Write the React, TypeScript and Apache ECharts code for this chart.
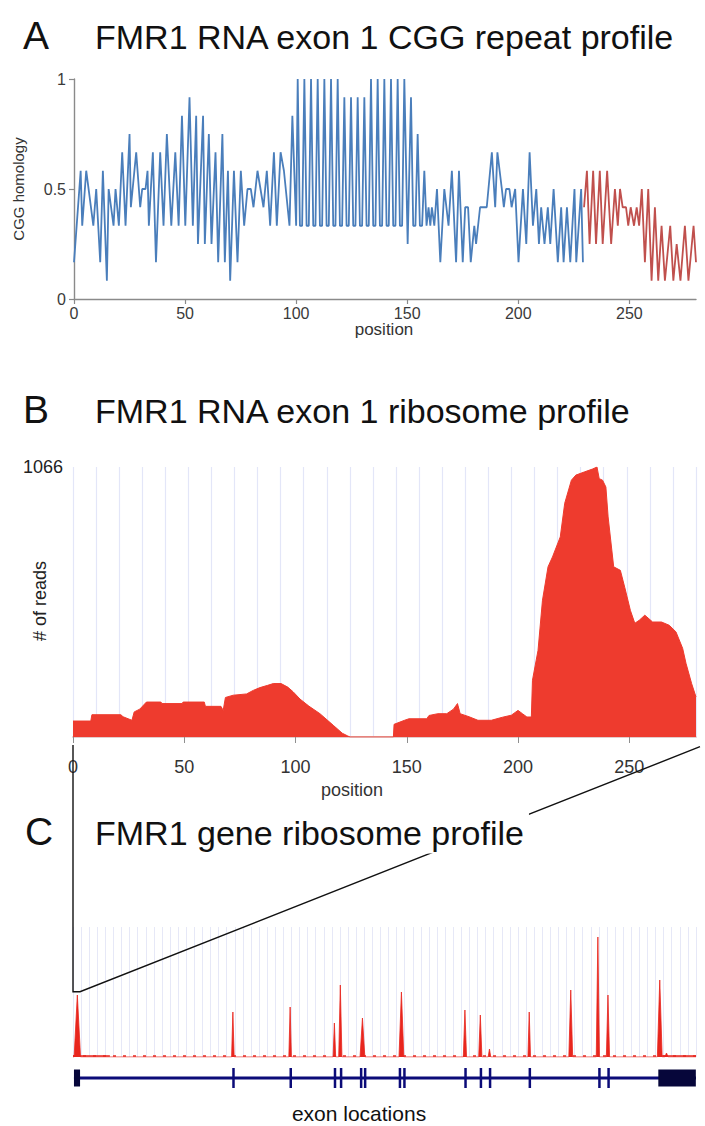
import { useEffect, useRef } from 'react';
import * as echarts from 'echarts';

const FONT = '"Liberation Sans", Arial, Helvetica, sans-serif';

// ---------- Panel A: CGG homology along exon 1 (position, homology) ----------
const cggBlue: number[][] = [
  [0, 0.167], [3, 0.583], [3.7, 0.333], [5.5, 0.583], [8.7, 0.333], [10, 0.5], [11.8, 0.167], [13, 0.583], [14.8, 0.083], [15.6, 0.5],
  [17.8, 0.333], [18.7, 0.5], [20.2, 0.333], [21.7, 0.667], [23.2, 0.333], [25, 0.75], [25.6, 0.417], [28, 0.667], [29.8, 0.417], [30.7, 0.5],
  [32.2, 0.5], [33.1, 0.583], [33.7, 0.333], [35.5, 0.667], [36.9, 0.167], [38.8, 0.667], [40.3, 0.333], [41.8, 0.75], [43.8, 0.333], [45.6, 0.667],
  [47.1, 0.333], [48.6, 0.833], [50.1, 0.333], [52, 0.917], [53.5, 0.333], [55, 0.833], [55.8, 0.25], [58.1, 0.833], [58.9, 0.25], [60.7, 0.75],
  [61.9, 0.25], [63.7, 0.667], [64.9, 0.167], [66.8, 0.75], [67.9, 0.167], [69.3, 0.583], [70.3, 0.083], [72, 0.583], [73.6, 0.167], [75.1, 0.583],
  [76.6, 0.333], [78.1, 0.5], [79.6, 0.5], [80.8, 0.417], [82.6, 0.583], [85.3, 0.417], [86.8, 0.583], [88.3, 0.333], [90, 0.667], [91.3, 0.333],
  [93, 0.667], [94.5, 0.583], [97, 0.333], [98.3, 0.833], [100, 0.333], [100.7, 1],
  [101.7, 0.333], [102.7, 0.333], [103.7, 1], [104.7, 0.333], [105.7, 0.333], [106.7, 1], [107.7, 0.333], [108.7, 0.333], [109.7, 1],
  [110.7, 0.333], [111.7, 0.333], [112.7, 1], [113.7, 0.333], [114.7, 0.333], [115.7, 1], [116.7, 0.333], [117.7, 0.333], [118.7, 1],
  [119.7, 0.333], [120.7, 0.333], [121.7, 0.917], [122.7, 0.333], [123.7, 0.333], [124.7, 0.917], [125.7, 0.333], [126.7, 0.333], [127.7, 0.917],
  [128.7, 0.333], [129.7, 0.333], [130.7, 0.917], [131.7, 0.333], [132.7, 0.333], [133.7, 1], [134.7, 0.333], [135.7, 0.333], [136.7, 1],
  [137.7, 0.333], [138.7, 0.333], [139.7, 1], [140.7, 0.333], [141.7, 0.333], [142.7, 1], [143.7, 0.333], [144.7, 0.333], [145.7, 1],
  [146.7, 0.333], [147.7, 0.333], [148.7, 1], [150.2, 0.25], [151.7, 0.917], [152.7, 0.333], [153.7, 0.333], [154.7, 0.75],
  [155.7, 0.333], [156.7, 0.333], [157.7, 0.583], [158.7, 0.333],
  [159.6, 0.417], [160.4, 0.333], [161.1, 0.417], [162.2, 0.333], [163.4, 0.5], [164.9, 0.167], [166.7, 0.5], [168.6, 0.333], [170.1, 0.583], [172, 0.167],
  [173.3, 0.583], [175, 0.167], [176.1, 0.417], [177.4, 0.417], [178.6, 0.167], [180.2, 0.333], [181, 0.25], [182.8, 0.417], [185.8, 0.417], [188.1, 0.667],
  [189.6, 0.417], [190.6, 0.667], [192.6, 0.5], [193.5, 0.417], [194.5, 0.5], [196, 0.5], [197, 0.417], [198.6, 0.5], [200.1, 0.167], [202.1, 0.5],
  [203.6, 0.25], [205.1, 0.667], [206.6, 0.333], [208.1, 0.5], [209.3, 0.25], [210.3, 0.417], [211.8, 0.25], [213.3, 0.417], [214.4, 0.25], [215.9, 0.5],
  [217.8, 0.167], [219.3, 0.417], [220.4, 0.167], [221.9, 0.417], [223.4, 0.167], [225.3, 0.5], [226.1, 0.167], [228.3, 0.5], [229.1, 0.167],
];

const cggRed: number[][] = [
  [229.6, 0.417], [230.9, 0.583], [232.1, 0.25], [233.7, 0.583], [235, 0.25], [236.7, 0.583], [238, 0.25], [240, 0.583], [241.8, 0.25],
  [243.5, 0.5], [244.8, 0.333], [245.8, 0.5], [247, 0.417], [248.5, 0.417], [249.5, 0.333], [250.6, 0.417], [252.1, 0.333], [253.3, 0.417],
  [254.4, 0.333], [255.6, 0.5], [257, 0.167], [258.5, 0.5], [260, 0.083], [261.5, 0.417], [263, 0.083], [264.5, 0.333], [266, 0.083],
  [268.4, 0.333], [269.8, 0.083], [271.3, 0.25], [273, 0.083], [275, 0.333], [276.6, 0.083], [278.9, 0.333], [280, 0.167],
];

const exonTicks = [0, 50, 100, 150, 200, 250];

// ---------- Panel B: ribosome reads along exon 1 (position, # of reads) ----------
const riboReads: number[][] = [
  [0, 63], [8, 63], [8.5, 88], [21.5, 88], [22.5, 80], [26.5, 66], [27.5, 99], [30, 110], [33, 138], [39.5, 138],
  [40, 132], [49, 132], [49.5, 138], [59, 138], [59.5, 121], [66.5, 121], [67.5, 105], [68.5, 156], [72, 165], [78, 170],
  [81, 184], [84, 195], [87.5, 204], [90, 211], [93.5, 211], [96.5, 197], [99, 178], [102, 150], [106, 122], [111, 92],
  [117, 46], [121, 15], [123.5, 4], [124.5, 0], [144, 0], [144.3, 50], [149, 66], [151, 72], [159, 72], [160, 85],
  [164, 92], [168, 92], [171, 110], [172.8, 132], [174, 92], [178, 80], [182, 66], [188, 66], [193, 78], [197, 86],
  [200, 105], [202, 92], [204, 79], [206, 79], [206.5, 224], [209, 342], [211, 540], [213.5, 672], [215.5, 711], [219, 790],
  [221, 923], [224, 1014], [226, 1034], [230, 1047], [233.5, 1058], [235.5, 1066], [236.5, 1020], [238, 1014], [239.5, 987], [240.5, 869],
  [243, 672], [246, 658], [248, 590], [250.5, 500], [252.5, 449], [254.5, 461], [257, 481], [260.5, 454], [264.5, 454], [268, 441],
  [271, 415], [274, 350], [275.5, 291], [278, 212], [280, 158],
];
const riboMax = 1066;

// ---------- Panel C: whole FMR1 gene (kb) ----------
const spikeKb = [0.27, 9.97, 13.54, 16.3, 16.67, 18.05, 20.48, 24.44, 25.4, 25.97, 28.45, 31.04, 32.73, 33.36, 36.59, 37.01];
const spikeReads = [62, 45, 50, 34, 72, 39, 65, 47, 42, 8, 45, 67, 120, 62, 77, 4];
const spikeHalfWidth = [0.2, 0.08, 0.08, 0.08, 0.1, 0.15, 0.15, 0.1, 0.1, 0.08, 0.08, 0.12, 0.1, 0.1, 0.15, 0.1];
const geneLengthKb = 38.85;

const exonStartKb = [0.06, 9.93, 13.5, 16.26, 16.64, 17.89, 18.14, 20.31, 20.59, 24.4, 25.36, 25.93, 28.41, 32.75, 33.32, 36.5];
const exonEndKb = [0.44, 10.03, 13.6, 16.36, 16.74, 17.99, 18.24, 20.41, 20.69, 24.5, 25.46, 26.03, 28.51, 32.85, 33.42, 38.84];
const exonBlock = [1, 0, 0, 0, 0, 0, 0, 0, 0, 0, 0, 0, 0, 0, 0, 1];

function buildSpikes(): number[][] {
  const out: number[][] = [[0, 0]];
  spikeKb.forEach((k, i) => {
    out.push([k - spikeHalfWidth[i], 0], [k, spikeReads[i]], [k + spikeHalfWidth[i], 0]);
  });
  out.push([geneLengthKb, 0]);
  return out;
}

const BLUE = '#4a7ebb';
const DARKRED = '#c0504d';
const RED = '#ee3b2e';
const NAVY = '#0b0b78';

export default function App() {
  const ref = useRef<HTMLDivElement>(null);

  useEffect(() => {
    document.body.style.margin = '0';
    const chart = echarts.init(ref.current as HTMLDivElement, undefined, { renderer: 'svg' });

    const hidden = {
      axisLine: { show: false },
      axisTick: { show: false },
      axisLabel: { show: false },
      splitLine: { show: false },
    };

    const txt = (text: string, x: number, y: number, size: number, extra: any = {}, styleExtra: any = {}) => ({
      type: 'text',
      x,
      y,
      z: 100,
      ...extra,
      style: {
        text,
        fontSize: size,
        fontFamily: FONT,
        fill: '#111',
        align: 'left',
        verticalAlign: 'middle',
        ...styleExtra,
      },
    });

    const option: any = {
      animation: false,
      backgroundColor: '#ffffff',
      textStyle: { fontFamily: FONT },
      grid: [
        { left: 74, top: 79, width: 622, height: 220 },
        { left: 73, top: 467, width: 623, height: 270 },
        { left: 73, top: 927, width: 623, height: 130 },
        { left: 73, top: 1068, width: 623, height: 20 },
      ],
      xAxis: [
        {
          gridIndex: 0, type: 'value', min: 0, max: 280, interval: 50,
          axisLine: { lineStyle: { color: '#8a8a8a', width: 1.4 } },
          axisTick: { length: 5, lineStyle: { color: '#8a8a8a', width: 1.2 }, customValues: exonTicks },
          axisLabel: { fontSize: 16, color: '#3a3a3a', margin: 6, customValues: exonTicks },
          splitLine: { show: false },
        },
        {
          gridIndex: 1, type: 'value', min: 0, max: 280, interval: 50,
          axisLine: { lineStyle: { color: '#e2cccc', width: 2 } },
          axisTick: { length: 6, lineStyle: { color: '#8f8f8f', width: 1 }, customValues: exonTicks },
          axisLabel: { fontSize: 18, color: '#333', margin: 21, customValues: exonTicks },
          splitLine: { show: false },
        },
        {
          gridIndex: 1, type: 'value', min: 0, max: 27, interval: 1, position: 'top',
          axisLine: { show: false }, axisTick: { show: false }, axisLabel: { show: false },
          splitLine: { show: true, lineStyle: { color: '#e3e6f8', width: 1.2 } },
        },
        { gridIndex: 2, type: 'value', min: 0, max: geneLengthKb, ...hidden },
        {
          gridIndex: 2, type: 'value', min: 0, max: 77, interval: 1, position: 'top',
          axisLine: { show: false }, axisTick: { show: false }, axisLabel: { show: false },
          splitLine: { show: true, lineStyle: { color: '#e6e8f7', width: 1 } },
        },
        { gridIndex: 3, type: 'value', min: 0, max: geneLengthKb, ...hidden },
      ],
      yAxis: [
        {
          gridIndex: 0, type: 'value', min: 0, max: 1, interval: 0.5,
          axisLine: { show: true, lineStyle: { color: '#8a8a8a', width: 1.4 } },
          axisTick: { show: true, length: 5, lineStyle: { color: '#8a8a8a', width: 1.2 } },
          axisLabel: { fontSize: 16, color: '#3a3a3a', margin: 8 },
          splitLine: { show: false },
        },
        {
          gridIndex: 1, type: 'value', min: 0, max: riboMax, interval: riboMax,
          axisLine: { show: false }, axisTick: { show: false },
          axisLabel: {
            fontSize: 18, color: '#222', margin: 10, customValues: [riboMax],
            formatter: (v: number) => String(v),
          },
          splitLine: { show: false },
        },
        { gridIndex: 2, type: 'value', min: 0, max: 130, ...hidden },
        { gridIndex: 3, type: 'value', min: 0, max: 1, ...hidden },
      ],
      series: [
        {
          type: 'line', xAxisIndex: 0, yAxisIndex: 0, data: cggBlue, symbol: 'none',
          lineStyle: { color: BLUE, width: 1.8 }, z: 3,
        },
        {
          type: 'line', xAxisIndex: 0, yAxisIndex: 0, data: cggRed, symbol: 'none',
          lineStyle: { color: DARKRED, width: 1.8 }, z: 3,
        },
        {
          type: 'line', xAxisIndex: 1, yAxisIndex: 1, data: riboReads, symbol: 'none',
          lineStyle: { color: RED, width: 1 }, areaStyle: { color: RED, opacity: 1 }, z: 3,
        },
        {
          type: 'line', xAxisIndex: 3, yAxisIndex: 2, data: [[0, 1], [geneLengthKb, 1]], symbol: 'none',
          lineStyle: { color: '#e8261e', width: 1.5, type: [3, 7] }, z: 3,
        },
        {
          type: 'line', xAxisIndex: 3, yAxisIndex: 2, data: [[0, 1], [2.3, 1], null, [36.6, 1], [geneLengthKb, 1]],
          connectNulls: false, symbol: 'none',
          lineStyle: { color: '#e8261e', width: 1.3 }, z: 3,
        },
        {
          type: 'line', xAxisIndex: 3, yAxisIndex: 2, data: buildSpikes(), symbol: 'none',
          lineStyle: { color: '#e8261e', width: 0.8 }, areaStyle: { color: '#e8261e', opacity: 1 }, z: 4,
        },
        {
          type: 'line', xAxisIndex: 5, yAxisIndex: 3, data: [[0.06, 0.5], [geneLengthKb, 0.5]], symbol: 'none',
          lineStyle: { color: NAVY, width: 3 }, z: 3,
        },
        {
          type: 'custom', xAxisIndex: 5, yAxisIndex: 3,
          data: exonStartKb.map((s, i) => [s, exonEndKb[i], exonBlock[i]]),
          renderItem: (params: any, api: any) => {
            const s = api.coord([api.value(0), 0.5]);
            const e = api.coord([api.value(1), 0.5]);
            const block = api.value(2) === 1;
            const h = block ? 17 : 20;
            const w = Math.max(e[0] - s[0], 2.5);
            return {
              type: 'rect',
              shape: { x: s[0], y: s[1] - h / 2, width: w, height: h },
              style: { fill: block ? '#06063a' : NAVY },
            };
          },
          z: 4,
        },
      ],
      graphic: [
        {
          type: 'polyline', z: 50,
          shape: { points: [[73, 745], [73, 991.7], [80, 991.7], [700, 746.7]] },
          style: { stroke: '#111', lineWidth: 1.4, fill: 'none' },
        },
        txt('A', 23, 35, 39),
        txt('FMR1 RNA exon 1 CGG repeat profile', 95, 37, 34),
        txt('B', 23, 409, 39),
        txt('FMR1 RNA exon 1 ribosome profile', 95, 411, 34),
        txt('C', 25, 831, 39),
        txt('FMR1 gene ribosome profile', 95, 833, 34, {}, { backgroundColor: '#ffffff', padding: [0, 5, 7, 0] }),
        txt('CGG homology', 18, 189, 15, { rotation: Math.PI / 2 }, { align: 'center', fill: '#333' }),
        txt('position', 384, 329, 17, {}, { align: 'center', fill: '#333' }),
        txt('# of reads', 40, 601, 18, { rotation: Math.PI / 2 }, { align: 'center', fill: '#222' }),
        txt('position', 352, 790, 18, {}, { align: 'center', fill: '#333' }),
        txt('exon locations', 359, 1113, 21, {}, { align: 'center', fill: '#111' }),
      ],
    };

    chart.setOption(option);
    return () => chart.dispose();
  }, []);

  return <div ref={ref} style={{ width: 705, height: 1126 }} />;
}
